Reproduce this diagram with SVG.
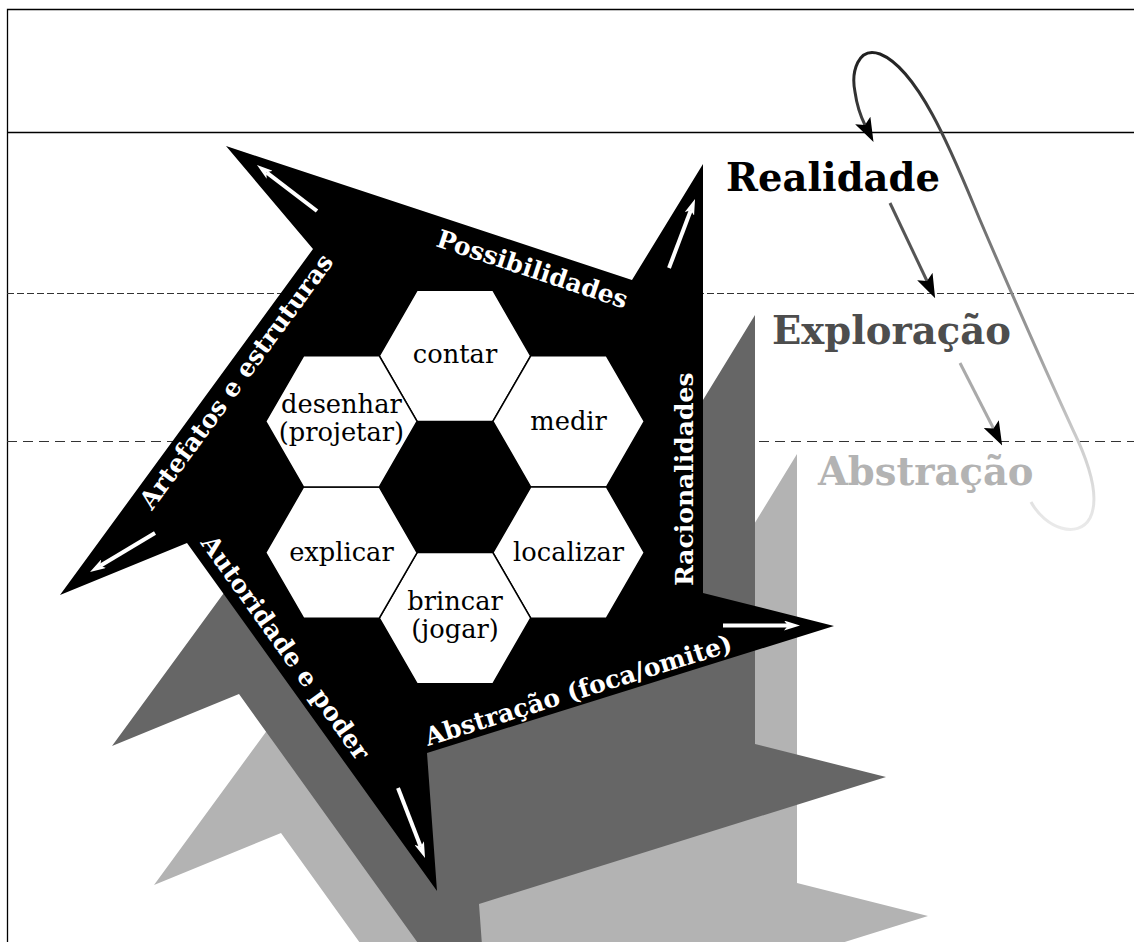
<svg xmlns="http://www.w3.org/2000/svg" xmlns:xlink="http://www.w3.org/1999/xlink" width="1134" height="942" viewBox="0 0 1134 942">
<style>
.edge{font-family:"DejaVu Serif","Liberation Serif",serif;font-weight:bold;font-size:25px;fill:#fff}
.hx{fill:#fff;stroke:#000;stroke-width:1.5}
.ht{font-family:"DejaVu Serif","Liberation Serif",serif;font-size:25.7px;fill:#000;text-anchor:middle}
.lvl{font-family:"DejaVu Serif","Liberation Serif",serif;font-weight:bold;font-size:38.5px}
.warr{stroke:#fff;stroke-width:4;fill:none;marker-end:url(#wh)}
.dash1{stroke:#333;stroke-width:1.2;stroke-dasharray:7,3}
.dash2{stroke:#333;stroke-width:1.2;stroke-dasharray:10,6}
</style>
<defs>
<polygon id="star" points="226,146 632,280 703,164 703,593 834,626 427,753 437,891 187,543 60,595 313,249"/>
<polygon id="hex" points="-75.7,0 -37.85,-65.6 37.85,-65.6 75.7,0 37.85,65.6 -37.85,65.6"/>
<marker id="wh" viewBox="0 0 16 10" markerWidth="16" markerHeight="10" refX="4" refY="5" orient="auto" markerUnits="userSpaceOnUse">
<path d="M0,0 L16,5 L0,10 L4,5 Z" fill="#fff"/>
</marker>
<marker id="bh" viewBox="0 0 24 17" markerWidth="24" markerHeight="17" refX="5" refY="8.5" orient="auto" markerUnits="userSpaceOnUse">
<path d="M0,0 L24,8.5 L0,17 L5,8.5 Z" fill="#000"/>
</marker>
<linearGradient id="fade" gradientUnits="userSpaceOnUse" x1="0" y1="50" x2="0" y2="530">
<stop offset="0" stop-color="#1e1e1e"/>
<stop offset="0.41" stop-color="#7a7a7a"/>
<stop offset="0.62" stop-color="#9c9c9c"/>
<stop offset="0.79" stop-color="#c8c8c8"/>
<stop offset="1" stop-color="#ebebeb"/>
</linearGradient>
</defs>
<rect width="1134" height="942" fill="#fff"/>
<g id="frame" fill="none" stroke="#000">
<path d="M7.5,942 V9.5 H1134" stroke-width="1.3"/>
<line x1="7" y1="132.5" x2="1134" y2="132.5" stroke-width="1.3"/>
<line class="dash1" x1="7" y1="293.5" x2="1134" y2="293.5"/>
<line class="dash2" x1="7" y1="441.5" x2="1134" y2="441.5"/>
</g>
<g id="shadows">
<use xlink:href="#star" transform="translate(94,290)" fill="#b3b3b3"/>
<use xlink:href="#star" transform="translate(52,151)" fill="#666"/>
</g>
<g id="pentagon">
<use xlink:href="#star" fill="#000"/>
<text class="edge" transform="translate(435,246) rotate(18.3)">Possibilidades</text>
<text class="edge" transform="translate(152,511) rotate(-53.8)">Artefatos e estruturas</text>
<text class="edge" transform="translate(693,586) rotate(-90)">Racionalidades</text>
<text class="edge" transform="translate(428,746) rotate(-17.3)">Abstração (foca/omite)</text>
<text class="edge" transform="translate(200,543) rotate(54.3)">Autoridade e poder</text>
</g>
<g id="hex-center"><use xlink:href="#hex" transform="translate(455,487)" fill="#000"/></g>
<g id="hex-contar"><use xlink:href="#hex" class="hx" transform="translate(455,355.8)"/><text class="ht" x="455" y="363">contar</text></g>
<g id="hex-medir"><use xlink:href="#hex" class="hx" transform="translate(568.6,421.4)"/><text class="ht" x="568.6" y="430">medir</text></g>
<g id="hex-localizar"><use xlink:href="#hex" class="hx" transform="translate(568.6,552.6)"/><text class="ht" x="568.6" y="561">localizar</text></g>
<g id="hex-brincar"><use xlink:href="#hex" class="hx" transform="translate(455,618.2)"/><text class="ht" x="455" y="610">brincar</text><text class="ht" x="455" y="638">(jogar)</text></g>
<g id="hex-explicar"><use xlink:href="#hex" class="hx" transform="translate(341.4,552.6)"/><text class="ht" x="341.4" y="561">explicar</text></g>
<g id="hex-desenhar"><use xlink:href="#hex" class="hx" transform="translate(341.4,421.4)"/><text class="ht" x="341.4" y="413">desenhar</text><text class="ht" x="341.4" y="441">(projetar)</text></g>
<g id="levels">
<text class="lvl" x="726" y="191" fill="#000">Realidade</text>
<text class="lvl" x="772" y="344" fill="#4d4d4d">Exploração</text>
<text class="lvl" x="818" y="485" fill="#b3b3b3">Abstração</text>
</g>
<g id="connectors">
<line class="warr" x1="317" y1="211" x2="266.5" y2="172.3"/>
<line class="warr" x1="669" y1="268" x2="690.8" y2="210.2"/>
<line class="warr" x1="723" y1="625.5" x2="788" y2="625.5"/>
<line class="warr" x1="398" y1="788" x2="420.7" y2="846.8"/>
<line class="warr" x1="155" y1="533" x2="100.3" y2="565.8"/>
<line x1="890" y1="203" x2="927" y2="281" stroke="#555" stroke-width="3" marker-end="url(#bh)"/>
<line x1="960" y1="363" x2="993.5" y2="428.5" stroke="#aaa" stroke-width="3" marker-end="url(#bh)"/>
<path d="M1031,502 C1045,528 1078,540 1090,518 C1100,498 1090,465 1073,430 C1050,380 1010,290 980,220 C955,160 920,70 880,54 C858,46 851,72 855,92 C857,106 861,117 865,125" fill="none" stroke="url(#fade)" stroke-width="3" marker-end="url(#bh)"/>
</g>
</svg>
